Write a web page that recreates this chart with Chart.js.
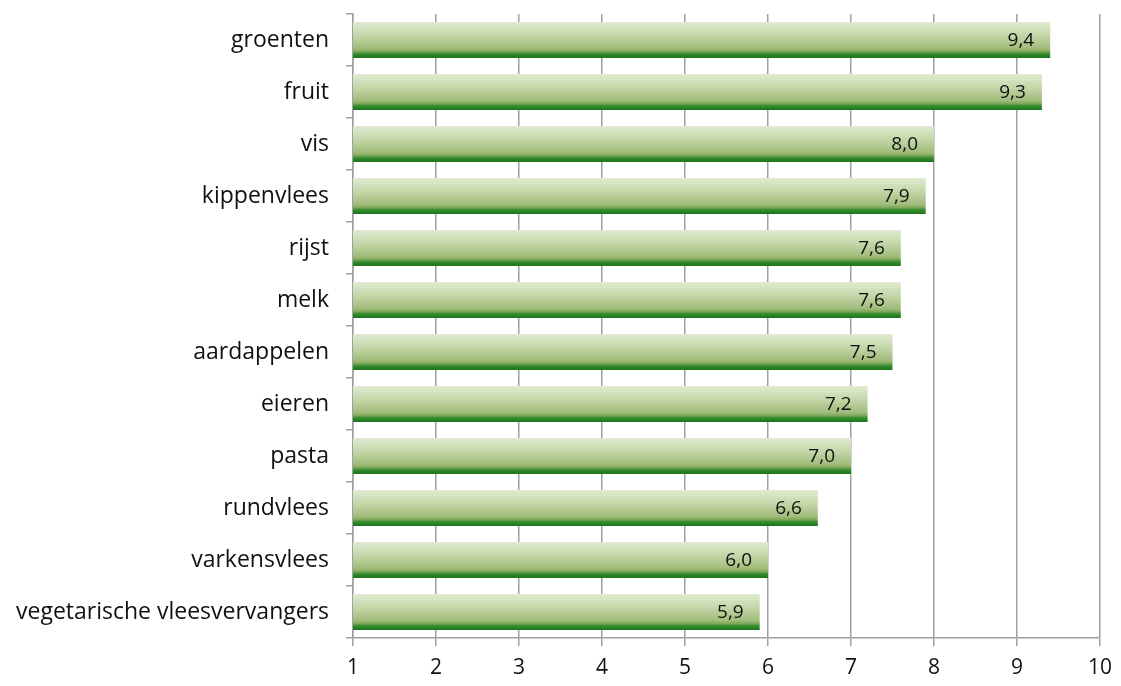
<!DOCTYPE html>
<html>
<head>
<meta charset="utf-8">
<script src="https://cdn.jsdelivr.net/npm/chart.js@4/dist/chart.umd.min.js"></script>
<style>
  html, body { margin: 0; padding: 0; background: #fff; }
  #wrap { width: 1121px; height: 686px; }
</style>
</head>
<body>
<div id="wrap"><canvas id="foodChart"></canvas></div>
<script>
var categories = ["groenten", "fruit", "vis", "kippenvlees", "rijst", "melk", "aardappelen",
    "eieren", "pasta", "rundvlees", "varkensvlees", "vegetarische vleesvervangers"];
var scores = [9.4, 9.3, 8.0, 7.9, 7.6, 7.6, 7.5, 7.2, 7.0, 6.6, 6.0, 5.9];
var xTicks = [1, 2, 3, 4, 5, 6, 7, 8, 9, 10];

var fontName = "'Open Sans', 'Noto Sans', sans-serif";
var gridGrey = "#a0a0a0";
var barPct = 0.69;

// vertical gradient per bar, like the office look
function barFill(ctx) {
    var chart = ctx.chart;
    var yScale = chart.scales.y;
    if (!chart.chartArea || !yScale || ctx.dataIndex == null) return "#a8c184";
    var h = yScale.height / categories.length * barPct;
    var top = yScale.getPixelForValue(ctx.dataIndex) - h / 2;
    var g = chart.ctx.createLinearGradient(0, top, 0, top + h);
    g.addColorStop(0, "#dfebd2");
    g.addColorStop(0.4, "#c2d5a6");
    g.addColorStop(0.74, "#a0bb7a");
    g.addColorStop(0.82, "#7ea95b");
    g.addColorStop(0.88, "#3a8f30");
    g.addColorStop(1, "#1a741a");
    return g;
}

var valueLabels = {
    id: "valueLabels",
    afterDatasetsDraw: function (chart) {
        var c = chart.ctx;
        var meta = chart.getDatasetMeta(0);
        c.save();
        c.font = "19px " + fontName;
        c.fillStyle = "#111";
        c.textAlign = "right";
        c.textBaseline = "middle";
        meta.data.forEach(function (bar, i) {
            var txt = scores[i].toFixed(1).replace(".", ",");
            c.fillText(txt, bar.x - 16, bar.y + 1);
        });
        c.restore();
    }
};

var config = {
    type: "bar",
    data: {
        labels: categories,
        datasets: [{
            data: scores,
            backgroundColor: barFill,
            borderWidth: 0,
            categoryPercentage: 1,
            barPercentage: barPct
        }]
    },
    options: {
        indexAxis: "y",
        responsive: true,
        maintainAspectRatio: false,
        animation: false,
        layout: { padding: { top: 14, right: 21, bottom: 0, left: 0 } },
        plugins: {
            legend: { display: false },
            tooltip: { enabled: false }
        },
        scales: {
            x: {
                min: 1,
                max: 10,
                afterBuildTicks: function (axis) {
                    axis.ticks = xTicks.map(function (v) { return { value: v }; });
                },
                afterFit: function (axis) {
                    axis.height = 48;
                    axis.paddingBottom = 0;
                },
                grid: { color: gridGrey, lineWidth: 1.5, tickLength: 8 },
                border: { color: gridGrey, width: 1.5 },
                ticks: {
                    color: "#111",
                    font: { family: fontName, size: 21 },
                    padding: 9
                }
            },
            y: {
                afterFit: function (axis) {
                    axis.width = 353;
                    axis.paddingTop = 0;
                    axis.paddingBottom = 0;
                },
                grid: {
                    offset: true,
                    drawOnChartArea: false,
                    color: gridGrey,
                    lineWidth: 1.5,
                    tickLength: 7
                },
                border: { color: gridGrey, width: 1.5 },
                ticks: {
                    color: "#111",
                    font: { family: fontName, size: 23 },
                    padding: 17
                }
            }
        }
    },
    plugins: [valueLabels]
};

var foodChart = new Chart(document.getElementById("foodChart"), config);
</script>
</body>
</html>
